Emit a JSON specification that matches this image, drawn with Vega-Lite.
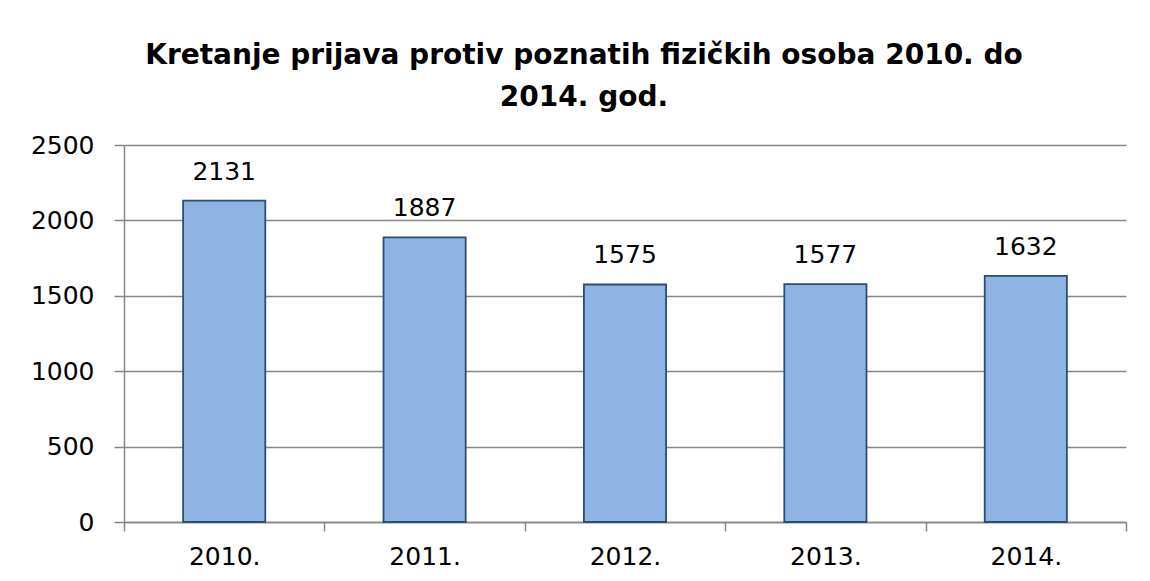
{
  "$schema": "https://vega.github.io/schema/vega-lite/v6.json",
  "width": 1002,
  "height": 377,
  "autosize": {"type": "none"},
  "padding": {"left": 124, "top": 145, "right": 24, "bottom": 59},
  "background": "white",
  "title": {
    "text": ["Kretanje prijava protiv poznatih fizičkih osoba 2010. do", "2014. god."],
    "font": "DejaVu Sans",
    "fontSize": 28,
    "fontWeight": "bold",
    "color": "black",
    "lineHeight": 42,
    "anchor": "middle",
    "dx": -41,
    "offset": 21
  },
  "data": {
    "values": [
      {"godina": "2010.", "prijave": 2131},
      {"godina": "2011.", "prijave": 1887},
      {"godina": "2012.", "prijave": 1575},
      {"godina": "2013.", "prijave": 1577},
      {"godina": "2014.", "prijave": 1632}
    ]
  },
  "encoding": {
    "x": {
      "field": "godina",
      "type": "nominal",
      "sort": null,
      "scale": {"paddingInner": 0, "paddingOuter": 0},
      "axis": {
        "title": null,
        "labelAngle": 0,
        "tickBand": "extent",
        "domainColor": "#868686",
        "domainWidth": 1.5,
        "tickColor": "#868686",
        "tickWidth": 1.5,
        "tickSize": 9,
        "labelFont": "DejaVu Sans",
        "labelFontSize": 25,
        "labelColor": "black",
        "labelPadding": 13
      }
    }
  },
  "layer": [
    {
      "mark": {"type": "bar", "width": {"band": 0.41}, "fill": "#8EB4E3", "stroke": "#2C4D75", "strokeWidth": 1.8},
      "encoding": {
        "y": {
          "field": "prijave",
          "type": "quantitative",
          "scale": {"domain": [0, 2500], "nice": false},
          "axis": {
            "title": null,
            "values": [0, 500, 1000, 1500, 2000, 2500],
            "format": "d",
            "grid": true,
            "gridColor": "#868686",
            "gridWidth": 1.5,
            "domainColor": "#868686",
            "domainWidth": 1.5,
            "tickColor": "#868686",
            "tickWidth": 1.5,
            "tickSize": 10,
            "labelFont": "DejaVu Sans",
            "labelFontSize": 25,
            "labelColor": "black",
            "labelPadding": 20
          }
        }
      }
    },
    {
      "mark": {"type": "text", "font": "DejaVu Sans", "fontSize": 25, "color": "black", "baseline": "bottom", "dy": -16},
      "encoding": {
        "y": {"field": "prijave", "type": "quantitative"},
        "text": {"field": "prijave", "type": "quantitative", "format": "d"}
      }
    }
  ],
  "config": {"view": {"stroke": null}}
}
